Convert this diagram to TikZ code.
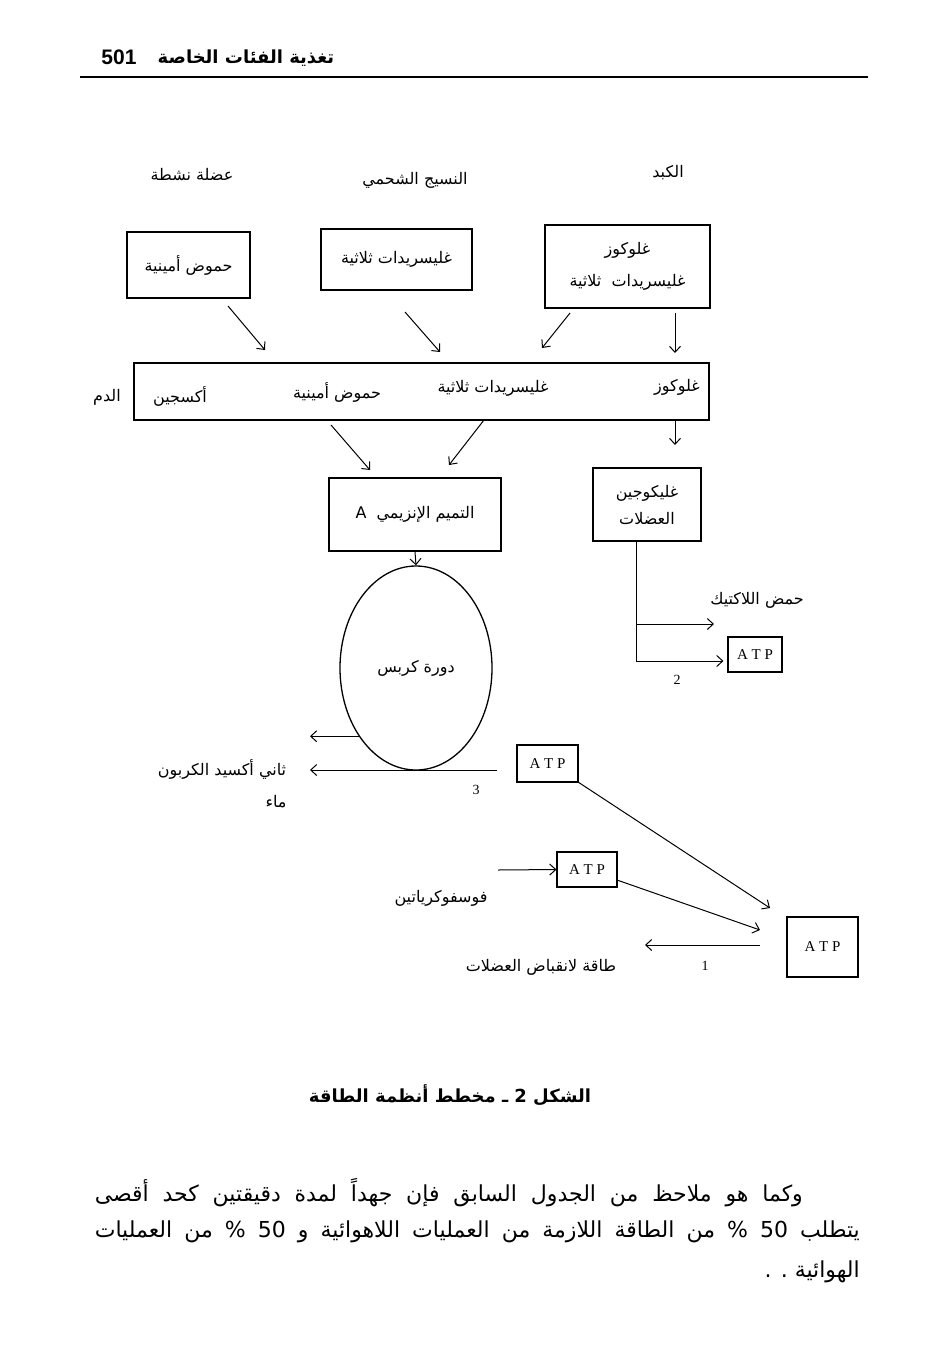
\documentclass[tikz,border=0pt]{standalone}
\usepackage{fontspec}
\setmainfont{Liberation Serif}
\newfontfamily\arfont[Script=Arabic]{DejaVu Sans}
\newfontfamily\hdfont{Liberation Sans}
\TeXXeTstate=1
\usetikzlibrary{positioning, shapes.geometric, arrows.meta}
\newcommand{\artext}[1]{{\arfont\beginR #1\endR}}

\begin{document}
\begin{tikzpicture}[x=1pt, y=-1pt,
    box/.style={draw, line width=1.5pt, inner sep=0pt},
    atp/.style={draw, line width=1.1pt, inner sep=0pt, font=\fontsize{15}{17}\selectfont},
    lbl/.style={font=\fontsize{16}{18}\selectfont, inner sep=1pt},
    num/.style={font=\fontsize{14}{16}\selectfont, inner sep=1pt},
    arr/.style={-{Straight Barb[length=6pt, width=11pt]}, line width=1pt}]
  \useasboundingbox (0,0) rectangle (945,1363);

  % Page header
  \node[font=\hdfont\bfseries\fontsize{21}{24}\selectfont] (pagenum) at (119,57) {501};
  \node[font=\bfseries\fontsize{18}{21}\selectfont] (runhead) at (246,58) {\artext{تغذية الفئات الخاصة}};
  \draw[line width=1.5pt] (80,77) -- (868,77);

  % Tissues
  \node[lbl] (muscle) at (192,175) {\artext{عضلة نشطة}};
  \node[lbl] (fat) at (415,180) {\artext{النسيج الشحمي}};
  \node[lbl] (liver) at (668,173) {\artext{الكبد}};

  \node[box, lbl, minimum width=123, minimum height=66] (amino) at (188.5,265) {\artext{حموض أمينية}};
  \node[box, lbl, minimum width=151, minimum height=61] (trig) at (396.5,259.5) {\artext{غليسريدات ثلاثية}};
  \node[box, lbl, align=center, minimum width=165, minimum height=83] (livbox) at (627.5,266.5)
    {\artext{غلوكوز}\\[14pt]\artext{غليسريدات~~ثلاثية}};

  % Blood
  \node[box, minimum width=575, minimum height=57] (blood) at (421.5,391.5) {};
  \node[lbl] (bloodlbl) at (107,397) {\artext{الدم}};
  \node[lbl] (oxy) at (180,396) {\artext{أكسجين}};
  \node[lbl] (bamino) at (337,392) {\artext{حموض أمينية}};
  \node[lbl] (btrig) at (493,388) {\artext{غليسريدات ثلاثية}};
  \node[lbl] (bgluc) at (677,387) {\artext{غلوكوز}};

  % Muscle cell
  \node[box, lbl, minimum width=172, minimum height=73] (coa) at (415,514.5) {\artext{التميم الإنزيمي\ \ A}};
  \node[box, lbl, align=center, minimum width=108, minimum height=73] (glyco) at (647,504.5)
    {\artext{غليكوجين}\\[9pt]\artext{العضلات}};
  \node[draw, ellipse, line width=1.3pt, inner sep=0pt, minimum width=152, minimum height=204, lbl] (krebs) at (416,668) {\artext{دورة كربس}};

  \node[atp] (atpl) at (755,654.5) [minimum width=54, minimum height=35] {A~T~P};
  \node[atp] (atpk) at (547.5,763.5) [minimum width=61, minimum height=37] {A~T~P};
  \node[atp] (atpp) at (587,869.5) [minimum width=60, minimum height=35] {A~T~P};
  \node[atp] (atpf) at (822.5,947) [minimum width=71, minimum height=60] {A~T~P};

  \node[lbl] (lactic) at (757,600) {\artext{حمض اللاكتيك}};
  \node[lbl] (co2) at (222,769) {\artext{ثاني أكسيد الكربون}};
  \node[lbl] (water) at (276,802) {\artext{ماء}};
  \node[lbl] (pcr) at (441,898) {\artext{فوسفوكرياتين}};
  \node[lbl] (energy) at (541,967) {\artext{طاقة لانقباض العضلات}};
  \node[num] (nthree) at (476,790) {3};
  \node[num] (ntwo) at (677,680) {2};
  \node[num] (none) at (705,966) {1};

  % Floating arrows
  \foreach \n/\xa/\ya/\xb/\yb in {1/228/306/265/350, 2/405/312/440/352, 3/570/313/542/348,
      4/675/313/675/353, 5/331/425/370/470, 6/484/420/449/465, 7/675/420/675/445,
      8/578/782/770/908, 9/617/880/760/930, 10/760/945/645/945} {
    \coordinate (s\n) at (\xa,\ya);
    \coordinate (e\n) at (\xb,\yb);
    \draw[arr] (s\n) -- (e\n);
  }

  % Krebs cycle outputs
  \draw[arr] (coa.south) -- (krebs.north);
  \coordinate (co2end) at (310,735);
  \draw[arr] (krebs.230) -- (co2end |- krebs.230);
  \coordinate (waterend) at (310,770);
  \coordinate (atpkend) at (497,770);
  \draw[arr, {Straight Barb[length=6pt, width=11pt]}-] (waterend) -- (atpkend);

  % Glycolysis
  \coordinate (gtop) at (636,541);
  \coordinate (gmid) at (636,624);
  \coordinate (gbot) at (636,661);
  \coordinate (lacend) at (714,624);
  \draw[line width=1pt] (gtop) -- (gbot);
  \draw[arr] (gmid) -- (lacend);
  \draw[arr, shorten >=4pt] (gbot) -- (gbot -| atpl.west);

  % Phosphocreatine
  \coordinate (pcrstart) at (498,870);
  \draw[arr] (pcrstart) -- (atpp.west);

  % Caption and text
  \node[font=\bfseries\fontsize{18}{21}\selectfont] (caption) at (450,1095) {\artext{الشكل 2 ـ مخطط أنظمة الطاقة}};
  \node[anchor=east, inner sep=0pt] (line1) at (803,1193)
    {\makebox[708pt][s]{\arfont\fontsize{22}{26}\selectfont\beginR وكما هو ملاحظ من الجدول السابق فإن جهداً لمدة دقيقتين كحد أقصى\endR}};
  \node[anchor=east, inner sep=0pt] (line2) at (860,1232)
    {\makebox[765pt][s]{\arfont\fontsize{22}{26}\selectfont\beginR يتطلب \beginL50\endL{} \% من الطاقة اللازمة من العمليات اللاهوائية و \beginL50\endL{} \% من العمليات\endR}};
  \node[anchor=east, inner sep=0pt] (line3) at (860,1272)
    {\arfont\fontsize{22}{26}\selectfont\beginR الهوائية . .\endR};
\end{tikzpicture}
\end{document}
